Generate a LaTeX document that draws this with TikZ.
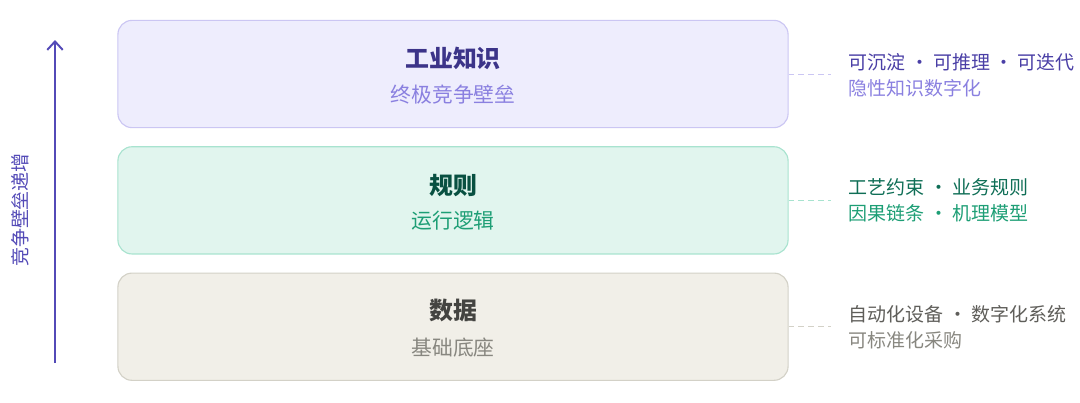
\documentclass[tikz,border=0pt]{standalone}
\usepackage{fontspec}
\setmainfont{Noto Sans CJK SC}
\usetikzlibrary{arrows.meta,positioning}
\definecolor{pfill}{HTML}{EEEDFD}
\definecolor{pline}{HTML}{CBC6F3}
\definecolor{ptitle}{HTML}{3C3489}
\definecolor{psub}{HTML}{8A80E0}
\definecolor{pnote}{HTML}{4A3FA6}
\definecolor{parrow}{HTML}{534AB7}
\definecolor{gfill}{HTML}{E1F5EE}
\definecolor{gline}{HTML}{A8E3CF}
\definecolor{gtitle}{HTML}{085041}
\definecolor{gsub}{HTML}{1D9E75}
\definecolor{gnote}{HTML}{0F6E56}
\definecolor{nfill}{HTML}{F1EFE8}
\definecolor{nline}{HTML}{D3D1C7}
\definecolor{ntitle}{HTML}{444441}
\definecolor{nsub}{HTML}{888780}
\definecolor{nnote}{HTML}{5F5E5A}

\begin{document}
\begin{tikzpicture}[x=0.025cm,y=-0.025cm,
    layer/.style={draw,rounded corners=10pt,line width=0.8pt,minimum width=16.75cm,minimum height=2.68cm},
    ttl/.style={font=\fontsize{17}{17}\selectfont\bfseries,inner sep=0pt},
    sub/.style={font=\fontsize{14.8}{15}\selectfont,inner sep=0pt},
    note/.style={font=\fontsize{13.5}{14}\selectfont,inner sep=0pt,anchor=west},
    link/.style={dashed,dash pattern=on 4pt off 3pt,line width=0.7pt}]
    \useasboundingbox (0,0) rectangle (1080,402);
    \node[layer,fill=pfill,draw=pline] (know) at (453,74) {};
    \node[layer,fill=gfill,draw=gline,below=0.45cm of know] (rule) {};
    \node[layer,fill=nfill,draw=nline,below=0.45cm of rule] (data) {};
    % titles
    \node[ttl,text=ptitle] (knowt) at ([yshift=0.4cm]know.center) {工业知识};
    \node[sub,text=psub] (knows) at ([yshift=-0.52cm]know.center) {终极竞争壁垒};
    \node[ttl,text=gtitle] (rulet) at ([yshift=0.38cm]rule.center) {规则};
    \node[sub,text=gsub] (rules) at ([yshift=-0.5cm]rule.center) {运行逻辑};
    \node[ttl,text=ntitle] (datat) at ([yshift=0.4cm]data.center) {数据};
    \node[sub,text=nsub] (datas) at ([yshift=-0.52cm]data.center) {基础底座};
    % side notes
    \coordinate[right=1.05cm of know.east] (knowe);
    \coordinate[right=1.05cm of rule.east] (rulee);
    \coordinate[right=1.05cm of data.east] (datae);
    \draw[link,draw=pline] (know.east)--(knowe);
    \draw[link,draw=gline] (rule.east)--(rulee);
    \draw[link,draw=nline] (data.east)--(datae);
    \node[note,text=pnote] (know1) at ([xshift=0.45cm,yshift=0.3cm]knowe) {可沉淀 · 可推理 · 可迭代};
    \node[note,text=psub] (know2) at ([xshift=0.45cm,yshift=-0.35cm]knowe) {隐性知识数字化};
    \node[note,text=gnote] (rule1) at ([xshift=0.45cm,yshift=0.32cm]rulee) {工艺约束 · 业务规则};
    \node[note,text=gsub] (rule2) at ([xshift=0.45cm,yshift=-0.33cm]rulee) {因果链条 · 机理模型};
    \node[note,text=nnote] (data1) at ([xshift=0.45cm,yshift=0.3cm]datae) {自动化设备 · 数字化系统};
    \node[note,text=nsub] (data2) at ([xshift=0.45cm,yshift=-0.35cm]datae) {可标准化采购};
    % axis
    \coordinate (abot) at (55,363);
    \coordinate (atop) at (55,40);
    \draw[-{Straight Barb[length=6pt,width=11pt]},line width=1.4pt,draw=parrow] (abot)--(atop);
    \node[note,anchor=center,rotate=90,text=parrow] (axis) at (20,210) {竞争壁垒递增};
\end{tikzpicture}
\end{document}
